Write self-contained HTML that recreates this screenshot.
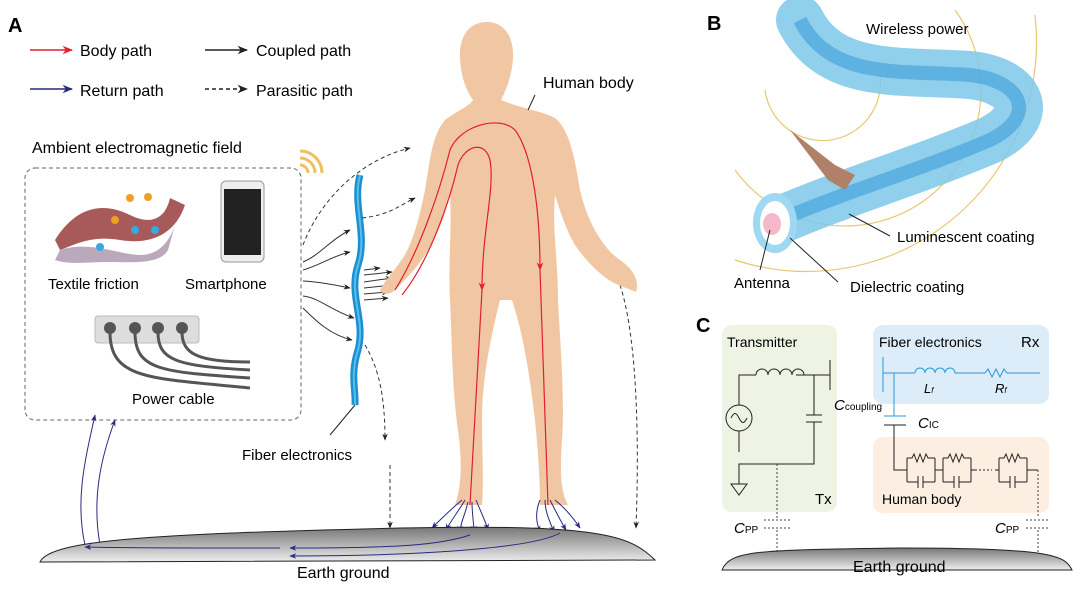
<!DOCTYPE html>
<html><head><meta charset="utf-8"><style>
body{margin:0;background:#fff}
svg{display:block;font-family:"Liberation Sans",Arial,sans-serif}
</style></head><body>
<svg width="1080" height="592" viewBox="0 0 1080 592" xmlns="http://www.w3.org/2000/svg">
<defs>
<marker id="ak" viewBox="0 0 10 10" refX="9" refY="5" markerWidth="7" markerHeight="7" orient="auto"><path d="M0,1 L10,5 L0,9 L3,5z" fill="#222"/></marker>
<marker id="ar" viewBox="0 0 10 10" refX="9" refY="5" markerWidth="7" markerHeight="7" orient="auto"><path d="M0,1 L10,5 L0,9 L3,5z" fill="#e02030"/></marker>
<marker id="ab" viewBox="0 0 10 10" refX="9" refY="5" markerWidth="7" markerHeight="7" orient="auto"><path d="M0,1 L10,5 L0,9 L3,5z" fill="#2a2a80"/></marker>
<linearGradient id="gnd" x1="0" y1="0" x2="0" y2="1"><stop offset="0" stop-color="#777"/><stop offset="1" stop-color="#eee"/></linearGradient>
<g id="rc" fill="none" stroke="#222" stroke-width="1">
<path d="M0,470 L4,470 M4,458 L4,482 M32,458 L32,482 M32,470 L36,470"/>
<path d="M4,458 L9,458 l2,-4 3,8 3,-8 3,8 3,-8 2,4 L32,458"/>
<path d="M4,482 L15,482 M15,476 L15,488 M20,476 L20,488 M20,482 L32,482"/>
</g>
</defs>

<!-- Panel A labels -->
<text x="8" y="32" font-size="20" font-weight="bold">A</text>
<line x1="30" y1="50" x2="72" y2="50" stroke="#e02030" stroke-width="1.5" marker-end="url(#ar)"/>
<text x="80" y="56" font-size="16">Body path</text>
<line x1="205" y1="50" x2="247" y2="50" stroke="#222" stroke-width="1.5" marker-end="url(#ak)"/>
<text x="256" y="56" font-size="16">Coupled path</text>
<line x1="30" y1="89" x2="72" y2="89" stroke="#2a2a80" stroke-width="1.5" marker-end="url(#ab)"/>
<text x="80" y="96" font-size="16">Return path</text>
<line x1="205" y1="89" x2="247" y2="89" stroke="#222" stroke-width="1.5" stroke-dasharray="4,3" marker-end="url(#ak)"/>
<text x="256" y="96" font-size="16">Parasitic path</text>
<text x="32" y="153" font-size="16">Ambient electromagnetic field</text>
<g fill="none" stroke="#f0c060" stroke-width="3"><path d="M300,165 a8,8 0 0 1 8,8"/><path d="M300,158 a15,15 0 0 1 15,15"/><path d="M300,151 a22,22 0 0 1 22,22"/></g>
<rect x="25" y="168" width="276" height="252" rx="10" fill="none" stroke="#666" stroke-dasharray="4,3"/>

<!-- textile -->
<path d="M55,240 C80,200 110,205 130,215 C150,225 165,220 170,198 L185,205 C175,235 150,245 120,240 C90,235 75,245 60,250z" fill="#a85a5a"/>
<path d="M60,250 C90,240 120,255 140,255 C160,255 170,240 175,225 L168,250 C160,265 130,262 110,262 C85,262 70,265 55,260z" fill="#b9a9bb"/>
<g><circle cx="130" cy="198" r="4" fill="#f0a020"/><circle cx="148" cy="197" r="4" fill="#f0a020"/><circle cx="115" cy="220" r="4" fill="#f0a020"/><circle cx="135" cy="230" r="4" fill="#3aa8e0"/><circle cx="100" cy="247" r="4" fill="#3aa8e0"/><circle cx="155" cy="230" r="4" fill="#3aa8e0"/></g>
<text x="48" y="289" font-size="15">Textile friction</text>
<rect x="221" y="181" width="43" height="81" rx="5" fill="#eee" stroke="#999"/>
<rect x="224" y="189" width="37" height="66" fill="#222"/>
<text x="185" y="289" font-size="15">Smartphone</text>
<rect x="95" y="316" width="104" height="27" rx="3" fill="#ddd" stroke="#bbb"/>
<g fill="#555"><circle cx="110" cy="328" r="6"/><circle cx="135" cy="328" r="6"/><circle cx="158" cy="328" r="6"/><circle cx="182" cy="328" r="6"/></g>
<g fill="none" stroke="#555" stroke-width="3"><path d="M110,332 C110,380 150,378 250,388"/><path d="M135,332 C135,370 160,372 250,378"/><path d="M158,332 C158,360 175,366 250,370"/><path d="M182,332 C182,355 200,362 250,362"/></g>
<text x="132" y="404" font-size="15">Power cable</text>

<!-- fiber -->
<path d="M360,175 C352,205 368,235 358,265 C348,295 366,320 358,350 C350,375 356,390 355,405" fill="none" stroke="#1d8fd0" stroke-width="7"/>
<path d="M360,175 C352,205 368,235 358,265 C348,295 366,320 358,350 C350,375 356,390 355,405" fill="none" stroke="#55c0ee" stroke-width="2"/>
<line x1="355" y1="405" x2="330" y2="435" stroke="#222"/>
<text x="242" y="460" font-size="15">Fiber electronics</text>

<g fill="none" stroke="#333" stroke-width="1" marker-end="url(#ak)">
<path d="M303,262 C320,255 330,240 350,230"/>
<path d="M303,270 C320,265 335,255 350,252"/>
<path d="M303,281 C320,282 335,285 350,288"/>
<path d="M303,296 C320,298 330,310 354,318"/>
<path d="M303,308 C315,320 330,335 352,340"/>
<path d="M364,270 L380,268"/><path d="M364,275 L392,272"/><path d="M364,282 L392,278"/><path d="M364,288 L392,285"/><path d="M364,294 L388,292"/><path d="M364,300 L388,298"/>
</g>
<g fill="none" stroke="#333" stroke-width="1" stroke-dasharray="4,3" marker-end="url(#ak)">
<path d="M303,245 C320,200 360,160 410,148"/>
<path d="M362,218 C390,215 400,205 415,198"/>
<path d="M365,345 C380,370 385,400 385,440"/>
<path d="M390,465 C390,490 390,510 390,528"/>
<path d="M620,285 C635,330 640,420 636,528"/>
</g>

<!-- human body -->
<path fill="#f1c7a3" d="M487,22 C505,22 514,38 513,58 C512,76 506,90 501,100 C520,108 545,112 555,118 C570,130 575,160 580,190 C588,225 605,250 620,260 C632,268 640,280 636,292 C626,288 618,285 612,282 C600,275 585,260 575,245 C565,228 560,210 555,195 C552,230 558,260 558,300 C560,340 565,400 562,440 C560,470 560,490 568,505 L540,505 C540,480 538,450 535,420 C530,380 525,340 512,300 L500,300 C490,340 482,380 482,420 C482,450 484,480 482,505 L455,505 C462,485 462,460 458,430 C452,390 452,340 450,300 C448,260 452,230 450,195 C445,215 438,235 425,255 C415,270 405,280 395,290 C390,295 382,295 380,290 C385,280 395,270 400,262 C410,250 418,225 425,190 C430,160 432,135 445,120 C455,112 470,106 473,100 C467,92 461,78 460,58 C459,38 468,22 487,22z"/>
<text x="543" y="88" font-size="16">Human body</text>
<line x1="535" y1="95" x2="528" y2="110" stroke="#222"/>
<g fill="none" stroke="#e02030" stroke-width="1.2">
<path d="M395,290 C420,250 440,190 450,150 C460,125 500,115 515,130 C530,150 540,200 540,270" marker-end="url(#ar)"/>
<path d="M402,295 C430,260 450,200 458,165 C465,145 485,140 490,160 C495,190 482,230 482,290" marker-end="url(#ar)"/>
<path d="M482,290 L470,505"/><path d="M540,270 L548,505"/>
</g>
<g fill="none" stroke="#2a2a80" stroke-width="1" marker-end="url(#ab)">
<path d="M462,500 C450,510 440,520 432,528"/><path d="M465,500 C458,512 450,522 446,530"/><path d="M468,502 C465,515 460,524 460,532"/><path d="M472,502 C472,515 474,524 474,532"/><path d="M476,500 C480,510 485,520 488,530"/>
<path d="M540,500 C535,512 536,522 540,532"/><path d="M545,500 C545,512 550,522 554,532"/><path d="M550,500 C555,510 560,520 566,530"/><path d="M555,500 C565,508 572,516 580,528"/>
<path d="M85,545 C75,500 85,460 95,415"/><path d="M100,545 C92,500 100,460 115,420"/>
</g>
<path d="M40,562 C50,540 150,534 400,528 C600,524 630,535 655,560 L40,562z" fill="url(#gnd)" stroke="#222"/>
<g fill="none" stroke="#2a2a80" stroke-width="1" marker-end="url(#ab)">
<path d="M470,535 C440,545 400,548 290,548"/><path d="M560,533 C530,550 400,556 290,556"/><path d="M280,548 C200,548 120,548 85,547"/>
</g>
<text x="297" y="578" font-size="16">Earth ground</text>

<!-- Panel B -->
<text x="707" y="30" font-size="20" font-weight="bold">B</text>
<g fill="none" stroke="#e8c870" stroke-width="1.2">
<path d="M765,90 A55,55 0 1 0 880,75"/>
<path d="M735,170 A135,135 0 0 0 955,10"/>
<path d="M735,260 A230,230 0 0 0 1035,15"/>
</g>
<path d="M780,220 C850,190 920,170 990,140 C1040,115 1020,80 970,75 C900,70 830,80 800,20" fill="none" stroke="#7ec8ea" stroke-width="48" stroke-linecap="round" opacity=".85"/>
<path d="M780,220 C850,190 920,170 990,140 C1040,115 1020,80 970,75 C900,70 830,80 800,20" fill="none" stroke="#3a9fd8" stroke-width="14" opacity=".6"/>
<path d="M790,130 L835,165 L855,175 L845,190 L828,180 z" fill="#b08068"/>
<ellipse cx="775" cy="223" rx="22" ry="30" fill="#9fd8f2"/>
<ellipse cx="775" cy="223" rx="15" ry="22" fill="#fff"/>
<ellipse cx="772" cy="224" rx="9" ry="11" fill="#f4b8c8"/>
<g stroke="#222"><line x1="849" y1="214" x2="890" y2="236"/><line x1="770" y1="230" x2="760" y2="270"/><line x1="790" y1="238" x2="838" y2="282"/></g>
<text x="866" y="34" font-size="15">Wireless power</text>
<text x="897" y="242" font-size="15">Luminescent coating</text>
<text x="734" y="288" font-size="15">Antenna</text>
<text x="850" y="292" font-size="15">Dielectric coating</text>

<!-- Panel C -->
<text x="696" y="332" font-size="20" font-weight="bold">C</text>
<rect x="722" y="325" width="115" height="187" rx="10" fill="#eef3e3"/>
<rect x="873" y="325" width="176" height="79" rx="10" fill="#dcecf8"/>
<rect x="873" y="437" width="176" height="76" rx="10" fill="#fcefe2"/>
<text x="727" y="347" font-size="14">Transmitter</text>
<text x="879" y="347" font-size="14">Fiber electronics</text>
<text x="1021" y="347" font-size="15">Rx</text>
<text x="815" y="504" font-size="15">Tx</text>
<text x="882" y="504" font-size="14">Human body</text>
<g fill="none" stroke="#222" stroke-width="1">
<path d="M739,452 L739,375 L756,375"/>
<path d="M756,375 a6,6 0 0 1 12,0 a6,6 0 0 1 12,0 a6,6 0 0 1 12,0 a6,6 0 0 1 12,0"/>
<path d="M796,375 L830,375"/><line x1="830" y1="360" x2="830" y2="390"/>
<path d="M814,375 L814,415 M806,415 L822,415 M806,422 L822,422 M814,422 L814,464 L739,464 L739,484"/>
<circle cx="739" cy="418" r="13" fill="#eef3e3"/>
<path d="M731,418 c3,-6 5,-6 8,0 c3,6 5,6 8,0"/>
<path d="M731,484 L747,484 L739,495z"/>
</g>
<g stroke="#2b9ad8" fill="none" stroke-width="1">
<line x1="883" y1="357" x2="883" y2="392"/><path d="M883,373 L915,373"/>
<path d="M915,373 a5,5 0 0 1 10,0 a5,5 0 0 1 10,0 a5,5 0 0 1 10,0 a5,5 0 0 1 10,0 L985,373 l3,-4 l4,8 l4,-8 l4,8 l4,-8 l3,4 L1040,373"/>
<path d="M894,373 L894,416 M884,416 L906,416"/>
</g>
<g stroke="#222" fill="none" stroke-width="1">
<path d="M884,425 L906,425 M894,425 L894,470 L903,470"/>
<path d="M975,470 L992,470" stroke-dasharray="2,2"/>
<path d="M1031,470 L1038,470"/>
</g>
<use href="#rc" x="903"/>
<use href="#rc" x="939"/>
<use href="#rc" x="995"/>
<g fill="none" stroke="#444" stroke-dasharray="2,2">
<path d="M777,464 L777,518 M764,520 L790,520 M764,528 L790,528 M777,530 L777,552"/>
<path d="M1038,470 L1038,518 M1026,520 L1050,520 M1026,528 L1050,528 M1038,530 L1038,552"/>
</g>
<text x="834" y="410" font-size="15" font-style="italic">C<tspan font-size="10" font-style="normal">coupling</tspan></text>
<text x="918" y="428" font-size="15" font-style="italic">C<tspan font-size="10" font-style="normal">IC</tspan></text>
<text x="924" y="393" font-size="13" font-style="italic">L<tspan font-size="8">f</tspan></text>
<text x="995" y="393" font-size="13" font-style="italic">R<tspan font-size="8">f</tspan></text>
<text x="734" y="533" font-size="15" font-style="italic">C<tspan font-size="10" font-style="normal">PP</tspan></text>
<text x="995" y="533" font-size="15" font-style="italic">C<tspan font-size="10" font-style="normal">PP</tspan></text>
<path d="M722,570 C730,550 760,550 900,548 C1050,548 1065,555 1072,570z" fill="url(#gnd)" stroke="#222"/>
<text x="853" y="572" font-size="16">Earth ground</text>
</svg>
</body></html>
